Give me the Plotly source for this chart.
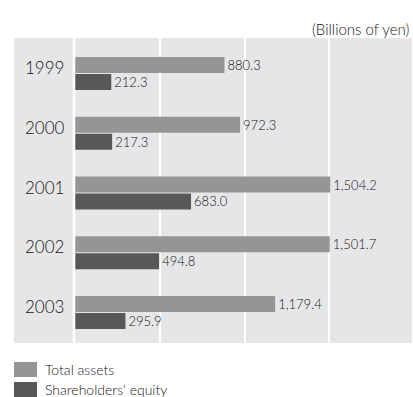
import plotly.graph_objects as go

# Fiscal years and balance-sheet figures (billions of yen)
years = ["1999", "2000", "2001", "2002", "2003"]
total_assets = [880.3, 972.3, 1504.2, 1501.7, 1179.4]
shareholders_equity = [212.3, 217.3, 683.0, 494.8, 295.9]
series_names = ["Total assets", "Shareholders' equity"]
unit_label = "(Billions of yen)"

ASSET_COLOR = "#959597"
EQUITY_COLOR = "#58585a"
PANEL_COLOR = "#e6e6e8"
TEXT_COLOR = "#151515"
FONT = "Lato"
WEIGHT = 300

W, H = 413, 397
ML, MR, MT, MB = 75, 1, 38, 54
PW = W - ML - MR
PH = H - MT - MB

pos = list(range(len(years)))


def fmt(v):
    return f"{v:,.1f}"


fig = go.Figure()
fig.add_trace(go.Bar(
    y=pos, x=total_assets, orientation="h", name=series_names[0],
    marker=dict(color=ASSET_COLOR, line=dict(width=0)),
    width=0.268, offset=-0.276,
    text=[fmt(v) for v in total_assets], textposition="outside",
    constraintext="none", cliponaxis=False,
    textfont=dict(family=FONT, size=13, color=TEXT_COLOR, weight=WEIGHT),
    showlegend=False,
))
fig.add_trace(go.Bar(
    y=pos, x=shareholders_equity, orientation="h", name=series_names[1],
    marker=dict(color=EQUITY_COLOR, line=dict(width=0)),
    width=0.268, offset=0.008,
    text=[fmt(v) for v in shareholders_equity], textposition="outside",
    constraintext="none", cliponaxis=False,
    textfont=dict(family=FONT, size=13, color=TEXT_COLOR, weight=WEIGHT),
    showlegend=False,
))


def px_x(p):
    return (p - ML) / PW


def px_y(p):
    return (H - MB - p) / PH


shapes = [
    # label column panel
    dict(type="rect", xref="paper", yref="paper", x0=px_x(14), x1=0, y0=0, y1=1,
         fillcolor=PANEL_COLOR, line=dict(width=0), layer="below"),
    # separator between labels and bars
    dict(type="line", xref="paper", yref="paper", x0=px_x(74), x1=px_x(74), y0=0, y1=1,
         line=dict(color="white", width=2.6), layer="below"),
]

annotations = []
for i, y in enumerate(years):
    annotations.append(dict(
        x=px_x(44.5), xref="paper", y=i - 0.1, yref="y", text=y,
        showarrow=False, xanchor="center", yanchor="middle",
        font=dict(family=FONT, size=17, color=TEXT_COLOR, weight=WEIGHT),
    ))

annotations.append(dict(
    x=px_x(411), xref="paper", y=px_y(29), yref="paper", text=unit_label,
    showarrow=False, xanchor="right", yanchor="middle",
    font=dict(family=FONT, size=15, color=TEXT_COLOR, weight=WEIGHT),
))

# legend swatches and labels
for k, (name, col) in enumerate(zip(series_names, [ASSET_COLOR, EQUITY_COLOR])):
    top = 362 + 20 * k
    shapes.append(dict(type="rect", xref="paper", yref="paper",
                       x0=px_x(14), x1=px_x(37), y0=px_y(top + 15), y1=px_y(top),
                       fillcolor=col, line=dict(width=0)))
    annotations.append(dict(
        x=px_x(43), xref="paper", y=px_y(top + 7.5), yref="paper", text=name,
        showarrow=False, xanchor="left", yanchor="middle",
        font=dict(family=FONT, size=14, color=TEXT_COLOR, weight=WEIGHT),
    ))

fig.update_layout(
    width=W, height=H,
    margin=dict(l=ML, r=MR, t=MT, b=MB, pad=0),
    paper_bgcolor="white", plot_bgcolor=PANEL_COLOR,
    barmode="overlay",
    shapes=shapes, annotations=annotations,
    xaxis=dict(range=[-1.8, 1987], tickvals=[500, 1000, 1500], showticklabels=False,
               showgrid=True, gridcolor="white", gridwidth=1.7,
               zeroline=False, showline=False, ticks=""),
    yaxis=dict(range=[4.51, -0.594], showticklabels=False, showgrid=False,
               zeroline=False, showline=False, ticks=""),
)

fig.write_html("out.html")
